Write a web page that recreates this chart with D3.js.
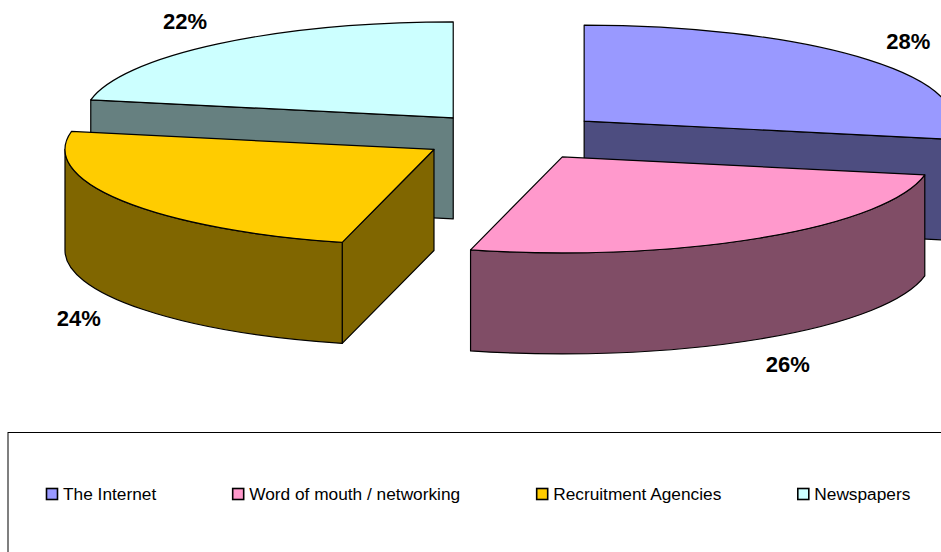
<!DOCTYPE html>
<html>
<head>
<meta charset="utf-8">
<script src="https://cdn.jsdelivr.net/npm/d3@7"></script>
<style>
  body { margin: 0; background: #fff; }
  text { font-family: "Liberation Sans", Arial, sans-serif; }
</style>
</head>
<body>
<script>
// Chart data
var categories = ["The Internet", "Word of mouth / networking", "Recruitment Agencies", "Newspapers"];
var shares = [28, 26, 24, 22];
var topColors = ["#9999FF", "#FF99CC", "#FFCC00", "#CCFFFF"];

// Layout of the 3D pie (flattened ellipse + thickness)
var width = 941, height = 552;
var cx = 512.5, cy = 136.5;
var rx = 369, ry = 96;
var depth = 101;
var explode = 0.252;

// darker side colour, like Excel does for the walls
function sideColor(c) {
    var col = d3.rgb(c);
    return d3.rgb(col.r * 0.5, col.g * 0.5, col.b * 0.5).formatHex();
}

var svg = d3.select("body").append("svg")
    .attr("width", width)
    .attr("height", height);

var arcs = d3.pie().sort(null).value(function(d){ return d; })(shares);

// point on the ellipse rim around a slice centre
function rim(c, a) {
    return [c[0] + rx * Math.sin(a), c[1] - ry * Math.cos(a)];
}
function down(p) { return [p[0], p[1] + depth]; }
function P(p) { return p[0] + "," + p[1]; }

var slices = arcs.map(function(a, i){
    var mid = (a.startAngle + a.endAngle) / 2;
    var centre = [cx + explode * rx * Math.sin(mid), cy - explode * ry * Math.cos(mid)];
    return { arc: a, i: i, mid: mid, c: centre };
});

// back slices first
slices.sort(function(a, b){ return a.c[1] - b.c[1]; });

slices.forEach(function(s){
    var a0 = s.arc.startAngle, a1 = s.arc.endAngle, c = s.c;
    var g = svg.append("g");
    var side = sideColor(topColors[s.i]);

    // radial cut faces that face the viewer
    [[a1, Math.sin(a1) > 0.001], [a0, Math.sin(a0) < -0.001]].forEach(function(f){
        if (!f[1]) return;
        var p = rim(c, f[0]);
        g.append("path")
            .attr("d", "M" + P(c) + "L" + P(p) + "L" + P(down(p)) + "L" + P(down(c)) + "Z")
            .attr("fill", side)
            .attr("stroke", "#000")
            .attr("stroke-width", 1.2)
            .attr("stroke-linejoin", "round");
    });

    // outer wall on the front half
    var b0 = Math.max(a0, Math.PI / 2), b1 = Math.min(a1, Math.PI * 1.5);
    if (b0 < b1) {
        var q0 = rim(c, b0), q1 = rim(c, b1);
        g.append("path")
            .attr("d", "M" + P(q0) + "A" + rx + "," + ry + " 0 0 1 " + P(q1) +
                "L" + P(down(q1)) + "A" + rx + "," + ry + " 0 0 0 " + P(down(q0)) + "Z")
            .attr("fill", side)
            .attr("stroke", "#000")
            .attr("stroke-width", 1.2)
            .attr("stroke-linejoin", "round");
    }

    // top face
    var p0 = rim(c, a0), p1 = rim(c, a1);
    var large = (a1 - a0) > Math.PI ? 1 : 0;
    g.append("path")
        .attr("d", "M" + P(c) + "L" + P(p0) + "A" + rx + "," + ry + " 0 " + large + " 1 " + P(p1) + "Z")
        .attr("fill", topColors[s.i])
        .attr("stroke", "#000")
        .attr("stroke-width", 1.2)
        .attr("stroke-linejoin", "round");
});

// percentage labels
var total = d3.sum(shares);
svg.selectAll(".pct")
    .data(slices)
    .enter().append("text")
    .attr("class", "pct")
    .attr("x", function(s){ return s.c[0] + 1.14 * rx * Math.sin(s.mid); })
    .attr("y", function(s){
        return s.c[1] - 1.31 * ry * Math.cos(s.mid) + (Math.cos(s.mid) < 0 ? depth : 0);
    })
    .attr("text-anchor", "middle")
    .attr("dy", "0.36em")
    .style("font-size", "22px")
    .style("font-weight", "bold")
    .text(function(s){ return Math.round(s.arc.value / total * 100) + "%"; });

// legend box (runs off the right and bottom edge)
svg.append("rect")
    .attr("x", 8)
    .attr("y", 432.5)
    .attr("width", 1000)
    .attr("height", 200)
    .attr("fill", "none")
    .attr("stroke", "#000")
    .attr("stroke-width", 1);

var legendY = 494, legendStart = 46, markerSize = 11, textGap = 17, itemGap = 76;

var items = svg.selectAll(".leg")
    .data(categories)
    .enter().append("g")
    .attr("class", "leg");

items.append("rect")
    .attr("x", 0.5)
    .attr("y", -markerSize / 2)
    .attr("width", markerSize)
    .attr("height", markerSize)
    .attr("fill", function(d, i){ return topColors[i]; })
    .attr("stroke", "#000")
    .attr("stroke-width", 1.6);

items.append("text")
    .attr("x", textGap)
    .attr("dy", "0.36em")
    .style("font-size", "17.3px")
    .text(function(d){ return d; });

// place items one after another, based on the measured text width
var xPos = legendStart;
items.each(function(){
    var g = d3.select(this);
    g.attr("transform", "translate(" + xPos + "," + legendY + ")");
    xPos += textGap + g.select("text").node().getComputedTextLength() + itemGap;
});
</script>
</body>
</html>
